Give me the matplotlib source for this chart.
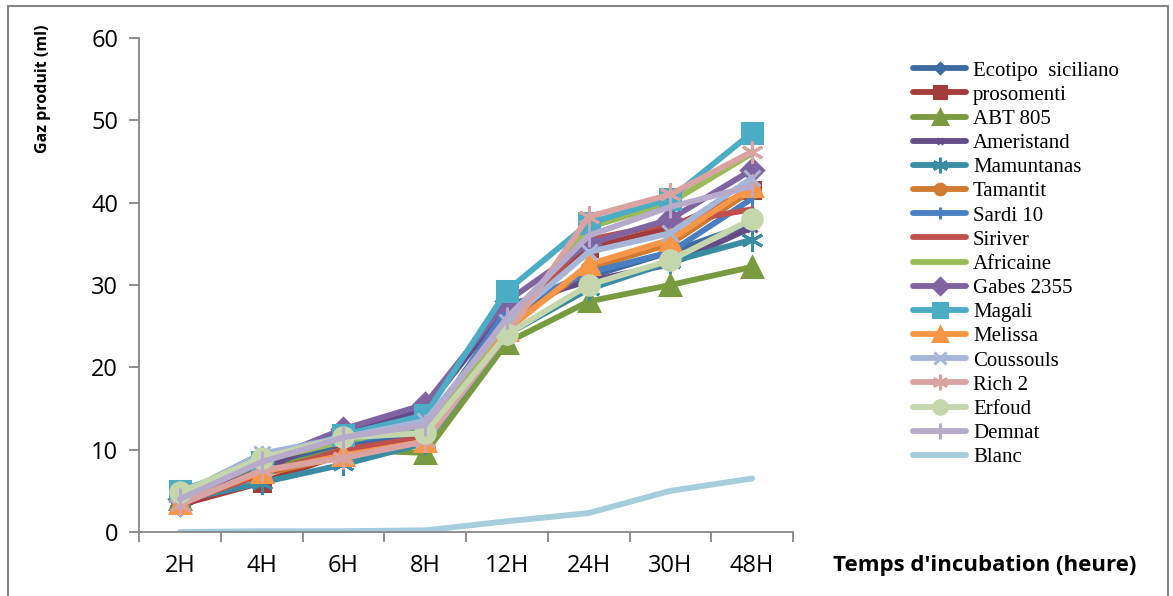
import matplotlib
matplotlib.use("Agg")
import matplotlib.pyplot as plt
import numpy as np
from matplotlib.patches import Rectangle

times = ["2H", "4H", "6H", "8H", "12H", "24H", "30H", "48H"]

ecotipo_siciliano = [2.9, 8.0, 10.5, 12.0, 26.5, 31.0, 34.0, 37.5]
prosomenti = [3.3, 6.0, 9.5, 11.0, 26.0, 34.5, 37.0, 41.5]
abt_805 = [4.0, 7.5, 10.0, 9.6, 23.0, 28.0, 30.0, 32.2]
ameristand = [3.5, 7.5, 12.0, 14.8, 27.5, 30.5, 32.5, 37.0]
mamuntanas = [3.8, 6.0, 8.2, 10.8, 24.0, 29.5, 32.8, 35.5]
tamantit = [3.5, 7.0, 9.2, 11.5, 25.0, 32.0, 35.0, 41.5]
sardi_10 = [4.5, 9.5, 11.0, 12.5, 27.0, 31.5, 34.0, 40.5]
siriver = [3.5, 7.0, 10.0, 11.5, 25.5, 35.5, 37.5, 39.2]
africaine = [4.5, 8.7, 11.0, 13.0, 25.0, 37.0, 40.0, 46.0]
gabes_2355 = [4.0, 8.5, 12.5, 15.5, 28.0, 35.0, 38.0, 44.0]
magali = [5.0, 8.5, 11.8, 14.2, 29.3, 37.5, 40.5, 48.5]
melissa = [3.5, 7.3, 9.3, 11.0, 24.5, 32.5, 35.5, 42.0]
coussouls = [4.5, 9.5, 11.5, 13.5, 25.5, 34.0, 36.3, 43.0]
rich_2 = [3.3, 7.5, 9.0, 11.0, 24.0, 38.3, 41.0, 46.2]
erfoud = [4.8, 9.0, 11.5, 12.0, 24.0, 30.0, 33.0, 38.0]
demnat = [4.0, 8.5, 11.5, 13.0, 26.0, 36.0, 39.5, 42.0]
blanc = [0.0, 0.1, 0.1, 0.2, 1.3, 2.3, 5.0, 6.5]

series = [
    ("Ecotipo  siciliano", ecotipo_siciliano, "#3E6AA3", "D", 7),
    ("prosomenti", prosomenti, "#A33C3A", "s", 12),
    ("ABT 805", abt_805, "#779B3E", "^", 14),
    ("Ameristand", ameristand, "#644C89", "x", 7),
    ("Mamuntanas", mamuntanas, "#3A8CA3", (6, 2, 0), 16),
    ("Tamantit", tamantit, "#D07A32", "o", 11),
    ("Sardi 10", sardi_10, "#4A7EC2", "|", 12),
    ("Siriver", siriver, "#C0504D", None, 0),
    ("Africaine", africaine, "#9BBB59", None, 0),
    ("Gabes 2355", gabes_2355, "#8064A2", "D", 11),
    ("Magali", magali, "#4BACC6", "s", 14),
    ("Melissa", melissa, "#F79646", "^", 14),
    ("Coussouls", coussouls, "#A5B6D8", "x", 12),
    ("Rich 2", rich_2, "#D9A3A2", (6, 2, 0), 16),
    ("Erfoud", erfoud, "#C5D6AC", "o", 14),
    ("Demnat", demnat, "#B7AACB", "|", 16),
    ("Blanc", blanc, "#A5CDDB", None, 0),
]

fig = plt.figure(figsize=(11.73, 5.96), dpi=100)
ax = fig.add_axes([139/1173, 1-532/596, (793-139)/1173, (532-38)/596])

x = np.arange(len(times))
handles = []
for name, vals, col, mk, ms in series:
    kw = dict(color=col, lw=4.2, solid_capstyle="round", label=name)
    if mk is not None:
        kw.update(marker=mk, markersize=ms, markerfacecolor=col,
                  markeredgecolor=col, markeredgewidth=2.2)
    h, = ax.plot(x, vals, **kw)
    handles.append(h)

ax.set_xlim(-0.5, len(times) - 0.5)
ax.set_ylim(0, 60)
ax.set_yticks(np.arange(0, 61, 10))
ax.set_xticks(np.arange(-0.5, len(times), 1.0))
ax.set_xticklabels([])
ax.set_xticks(x, minor=True)
ax.set_xticklabels(times, minor=True)

gray = "#868686"
for s in ["top", "right"]:
    ax.spines[s].set_visible(False)
for s in ["left", "bottom"]:
    ax.spines[s].set_color(gray)
    ax.spines[s].set_linewidth(1.3)
ax.tick_params(axis="y", which="major", direction="out", length=7, width=1.3,
               color=gray, labelsize=17, pad=8, labelcolor="black")
ax.tick_params(axis="x", which="major", direction="out", length=7, width=1.3,
               color=gray)
ax.tick_params(axis="x", which="minor", length=0, labelsize=17, pad=16,
               labelcolor="black")
for lab in ax.get_yticklabels() + ax.get_xticklabels(minor=True):
    lab.set_fontfamily("Open Sans")

fig.text(43/1173, 1-89/596, "Gaz produit (ml)", rotation=90, ha="center",
         va="center", fontsize=11.5, fontweight="bold", family="Open Sans")
fig.text(985/1173, 1-566/596, "Temps d'incubation (heure)", ha="center",
         va="center", fontsize=16, fontweight="bold", family="Open Sans")

leg = fig.legend(handles=handles, loc="upper left",
                 bbox_to_anchor=(913/1173, 1-61/596), frameon=False,
                 prop={"family": "Liberation Serif", "size": 15},
                 handlelength=2.55, handletextpad=0.33, labelspacing=0.22,
                 borderaxespad=0, borderpad=0, markerscale=0.7)

fig.patches.append(Rectangle((8/1173, -0.05), (1168-8)/1173, 1.05-6/596,
                             transform=fig.transFigure, fill=False,
                             edgecolor=gray, lw=1.5))

fig.savefig("out.png", dpi=100)
